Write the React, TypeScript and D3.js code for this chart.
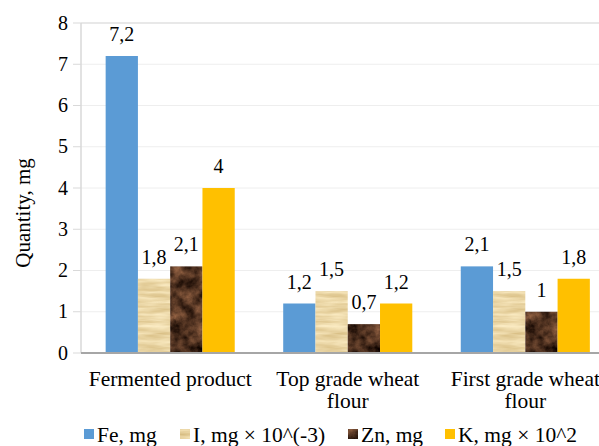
import React from "react";
import * as d3 from "d3";

const categories = ["Fermented product", "Top grade wheat flour", "First grade wheat flour"];
const categoryLines = [["Fermented product"], ["Top grade wheat", "flour"], ["First grade wheat", "flour"]];
const seriesNames = ["Fe, mg", "I, mg × 10^(-3)", "Zn, mg", "K, mg × 10^2"];
const fe = [7.2, 1.2, 2.1];
const iod = [1.8, 1.5, 1.5];
const zn = [2.1, 0.7, 1];
const k = [4, 1.2, 1.8];
const yTicks = [0, 1, 2, 3, 4, 5, 6, 7, 8];

const W = 599;
const H = 446;
const FONT = "'Liberation Serif', 'Times New Roman', 'DejaVu Serif', serif";

export default function App() {
  const series = [fe, iod, zn, k];
  const filters = [undefined, "url(#parch)", "url(#wood)", undefined];
  const baseFills = ["#5b9bd5", "#ead5a4", "#4b3222", "#ffc000"];

  const x0 = d3.scaleBand<string>().domain(categories).range([81.5, 614]).paddingInner(0.273).paddingOuter(0.136);
  const x1 = d3.scaleBand<string>().domain(seriesNames).range([0, x0.bandwidth()]).padding(0);
  const y = d3.scaleLinear().domain([0, 8]).range([353, 23]);
  const fmt = (v: number) => String(v).replace(".", ",");

  const legendX = [84, 180, 348, 445];

  return (
    <svg width={W} height={H} style={{ position: "absolute", left: 0, top: 0, background: "#fff" }}>
      <defs>
        <filter id="parch" x="0" y="0" width="1" height="1" filterUnits="objectBoundingBox" colorInterpolationFilters="sRGB">
          <feTurbulence type="fractalNoise" baseFrequency="0.03 0.25" numOctaves="3" seed="3" result="n" />
          <feColorMatrix in="n" type="matrix" values="0.2 0 0 0 0.82  0.26 0 0 0 0.71  0.36 0 0 0 0.47  0 0 0 0 1" result="c" />
          <feComposite in="c" in2="SourceGraphic" operator="in" />
        </filter>
        <filter id="wood" x="0" y="0" width="1" height="1" filterUnits="objectBoundingBox" colorInterpolationFilters="sRGB">
          <feTurbulence type="fractalNoise" baseFrequency="0.09" numOctaves="4" seed="7" result="n" />
          <feColorMatrix in="n" type="matrix" values="0.7 0 0 0 -0.03  0.5 0 0 0 -0.05  0.36 0 0 0 -0.05  0 0 0 0 1" result="c" />
          <feComposite in="c" in2="SourceGraphic" operator="in" />
        </filter>
      </defs>
      <rect x={0} y={0} width={W} height={H} fill="#fff" />
      {yTicks.map((t) => (
        <line key={"g" + t} x1={81} x2={W} y1={y(t)} y2={y(t)} stroke={t === 8 ? "#e0e0e0" : "#eeeeee"} strokeWidth={t === 8 ? 1.5 : 1} />
      ))}
      <line x1={81} x2={81} y1={y(8)} y2={y(0)} stroke="#d9d9d9" strokeWidth={1.5} />
      {yTicks.map((t) => (
        <line key={"t" + t} x1={73} x2={81} y1={y(t)} y2={y(t)} stroke="#d9d9d9" strokeWidth={1} />
      ))}
      {yTicks.map((t) => (
        <text key={"l" + t} x={68} y={y(t) + 6.5} textAnchor="end" fontFamily={FONT} fontSize={20} fill="#000">
          {t}
        </text>
      ))}
      {categories.map((c, ci) => (
        <g key={c} transform={`translate(${x0(c)},0)`}>
          {series.map((s, si) => (
            <rect
              key={si}
              x={x1(seriesNames[si])}
              y={y(s[ci])}
              width={x1.bandwidth()}
              height={y(0) - y(s[ci])}
              fill={baseFills[si]}
              filter={filters[si]}
            />
          ))}
        </g>
      ))}
      {categories.map((c, ci) =>
        series.map((s, si) => (
          <text
            key={c + si}
            x={(x0(c) as number) + (x1(seriesNames[si]) as number) + x1.bandwidth() / 2}
            y={y(s[ci]) - 15}
            textAnchor="middle"
            fontFamily={FONT}
            fontSize={20}
            fill="#000"
          >
            {fmt(s[ci])}
          </text>
        ))
      )}
      <line x1={81} x2={W} y1={y(0)} y2={y(0)} stroke="#a6a6a6" strokeWidth={2} />
      {categories.map((c, ci) =>
        categoryLines[ci].map((ln, li) => (
          <text
            key={c + li}
            x={(x0(c) as number) + x0.bandwidth() / 2}
            y={386 + li * 22}
            textAnchor="middle"
            fontFamily={FONT}
            fontSize={21.5}
            fill="#000"
          >
            {ln}
          </text>
        ))
      )}
      <text transform="translate(30,213) rotate(-90)" textAnchor="middle" fontFamily={FONT} fontSize={21} fill="#000">
        Quantity, mg
      </text>
      {seriesNames.map((n, i) => (
        <g key={n}>
          <rect x={legendX[i]} y={429} width={10} height={10} fill={baseFills[i]} filter={filters[i]} />
          <text x={legendX[i] + 13} y={442} fontFamily={FONT} fontSize={21.5} fill="#000">
            {n}
          </text>
        </g>
      ))}
    </svg>
  );
}
